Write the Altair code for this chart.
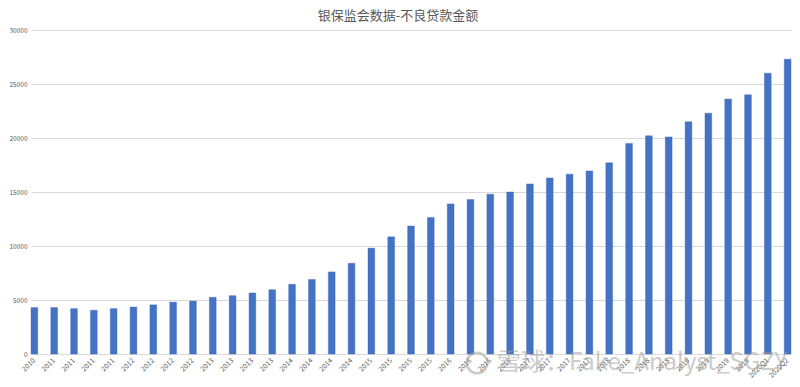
import altair as alt
import pandas as pd

title_text = "银保监会数据-不良贷款金额"

periods = ["2010Q4",
           "2011Q1", "2011Q2", "2011Q3", "2011Q4",
           "2012Q1", "2012Q2", "2012Q3", "2012Q4",
           "2013Q1", "2013Q2", "2013Q3", "2013Q4",
           "2014Q1", "2014Q2", "2014Q3", "2014Q4",
           "2015Q1", "2015Q2", "2015Q3", "2015Q4",
           "2016Q1", "2016Q2", "2016Q3", "2016Q4",
           "2017Q1", "2017Q2", "2017Q3", "2017Q4",
           "2018Q1", "2018Q2", "2018Q3", "2018Q4",
           "2019Q1", "2019Q2", "2019Q3", "2019Q4",
           "2020Q1", "2020Q2"]

tick_labels = ["2010",
               "2011", "2011", "2011", "2011",
               "2012", "2012", "2012", "2012",
               "2013", "2013", "2013", "2013",
               "2014", "2014", "2014", "2014",
               "2015", "2015", "2015", "2015",
               "2016", "2016", "2016", "2016",
               "2017", "2017", "2017", "2017",
               "2018", "2018", "2018", "2018",
               "2019", "2019", "2019", "2019",
               "2020Q1", "2020Q2"]

npl_amount = [4300, 4300, 4200, 4050, 4200, 4350, 4550, 4800, 4900, 5250,
              5400, 5650, 5950, 6450, 6900, 7600, 8400, 9800, 10850, 11850,
              12650, 13900, 14300, 14800, 15000, 15750, 16300, 16650, 16950, 17700,
              19500, 20200, 20100, 21500, 22300, 23600, 24000, 26000, 27300]

y_ticks = [0, 5000, 10000, 15000, 20000, 25000, 30000]

watermark_text = ["雪球：Fake_Analyst_SGZY"]

df = pd.DataFrame({"period": periods, "label": tick_labels, "value": npl_amount})

label_map = "{" + ",".join(f"'{p}':'{l}'" for p, l in zip(periods, tick_labels)) + "}"

FONT = "Noto Sans CJK SC"
GRAY = "#595959"

bars = alt.Chart(df).mark_bar(color="#4472c4", stroke="#3a66b8", strokeWidth=0.4).encode(
    x=alt.X("period:N", sort=periods,
            scale=alt.Scale(paddingInner=0.66, paddingOuter=0.0),
            axis=alt.Axis(title=None, labelAngle=-45, labelAlign="right", labelBaseline="middle",
                          labelFontSize=7, labelColor=GRAY, labelFont=FONT, labelOverlap=False,
                          labelPadding=5, ticks=False, domain=True, domainColor="#d9d9d9",
                          labelExpr=label_map + "[datum.label]")),
    y=alt.Y("value:Q", scale=alt.Scale(domain=[0, 30000], nice=False),
            axis=alt.Axis(title=None, values=y_ticks, format="d", labelFontSize=6.5, labelColor=GRAY,
                          labelFont=FONT, ticks=False, domain=False, gridColor="#d9d9d9",
                          gridWidth=1, labelPadding=4)),
)

wm_df = pd.DataFrame({"t": watermark_text})

watermark = alt.Chart(wm_df).mark_text(
    align="left", baseline="middle", fontSize=24, font=FONT, color="#9a9a9a", opacity=0.5
).encode(text="t:N", x=alt.value(466), y=alt.value(333))

logo = alt.Chart(wm_df).mark_point(
    shape="circle", size=420, filled=False, stroke="#9a9a9a", strokeWidth=2.5, opacity=0.5
).encode(x=alt.value(446), y=alt.value(333))

chart = alt.layer(bars, watermark, logo).properties(
    width=760, height=324,
    title=alt.TitleParams(title_text, font=FONT, fontSize=13, fontWeight="normal",
                          color=GRAY, anchor="middle", offset=4, dx=-13),
    autosize=alt.AutoSizeParams(type="none"),
    padding={"left": 23, "top": 22, "right": 1, "bottom": 25},
).configure_view(stroke=None).configure_axis(grid=True).configure_axisX(grid=False)

chart.save("out.html", embed_options={"renderer": "svg", "actions": False})
